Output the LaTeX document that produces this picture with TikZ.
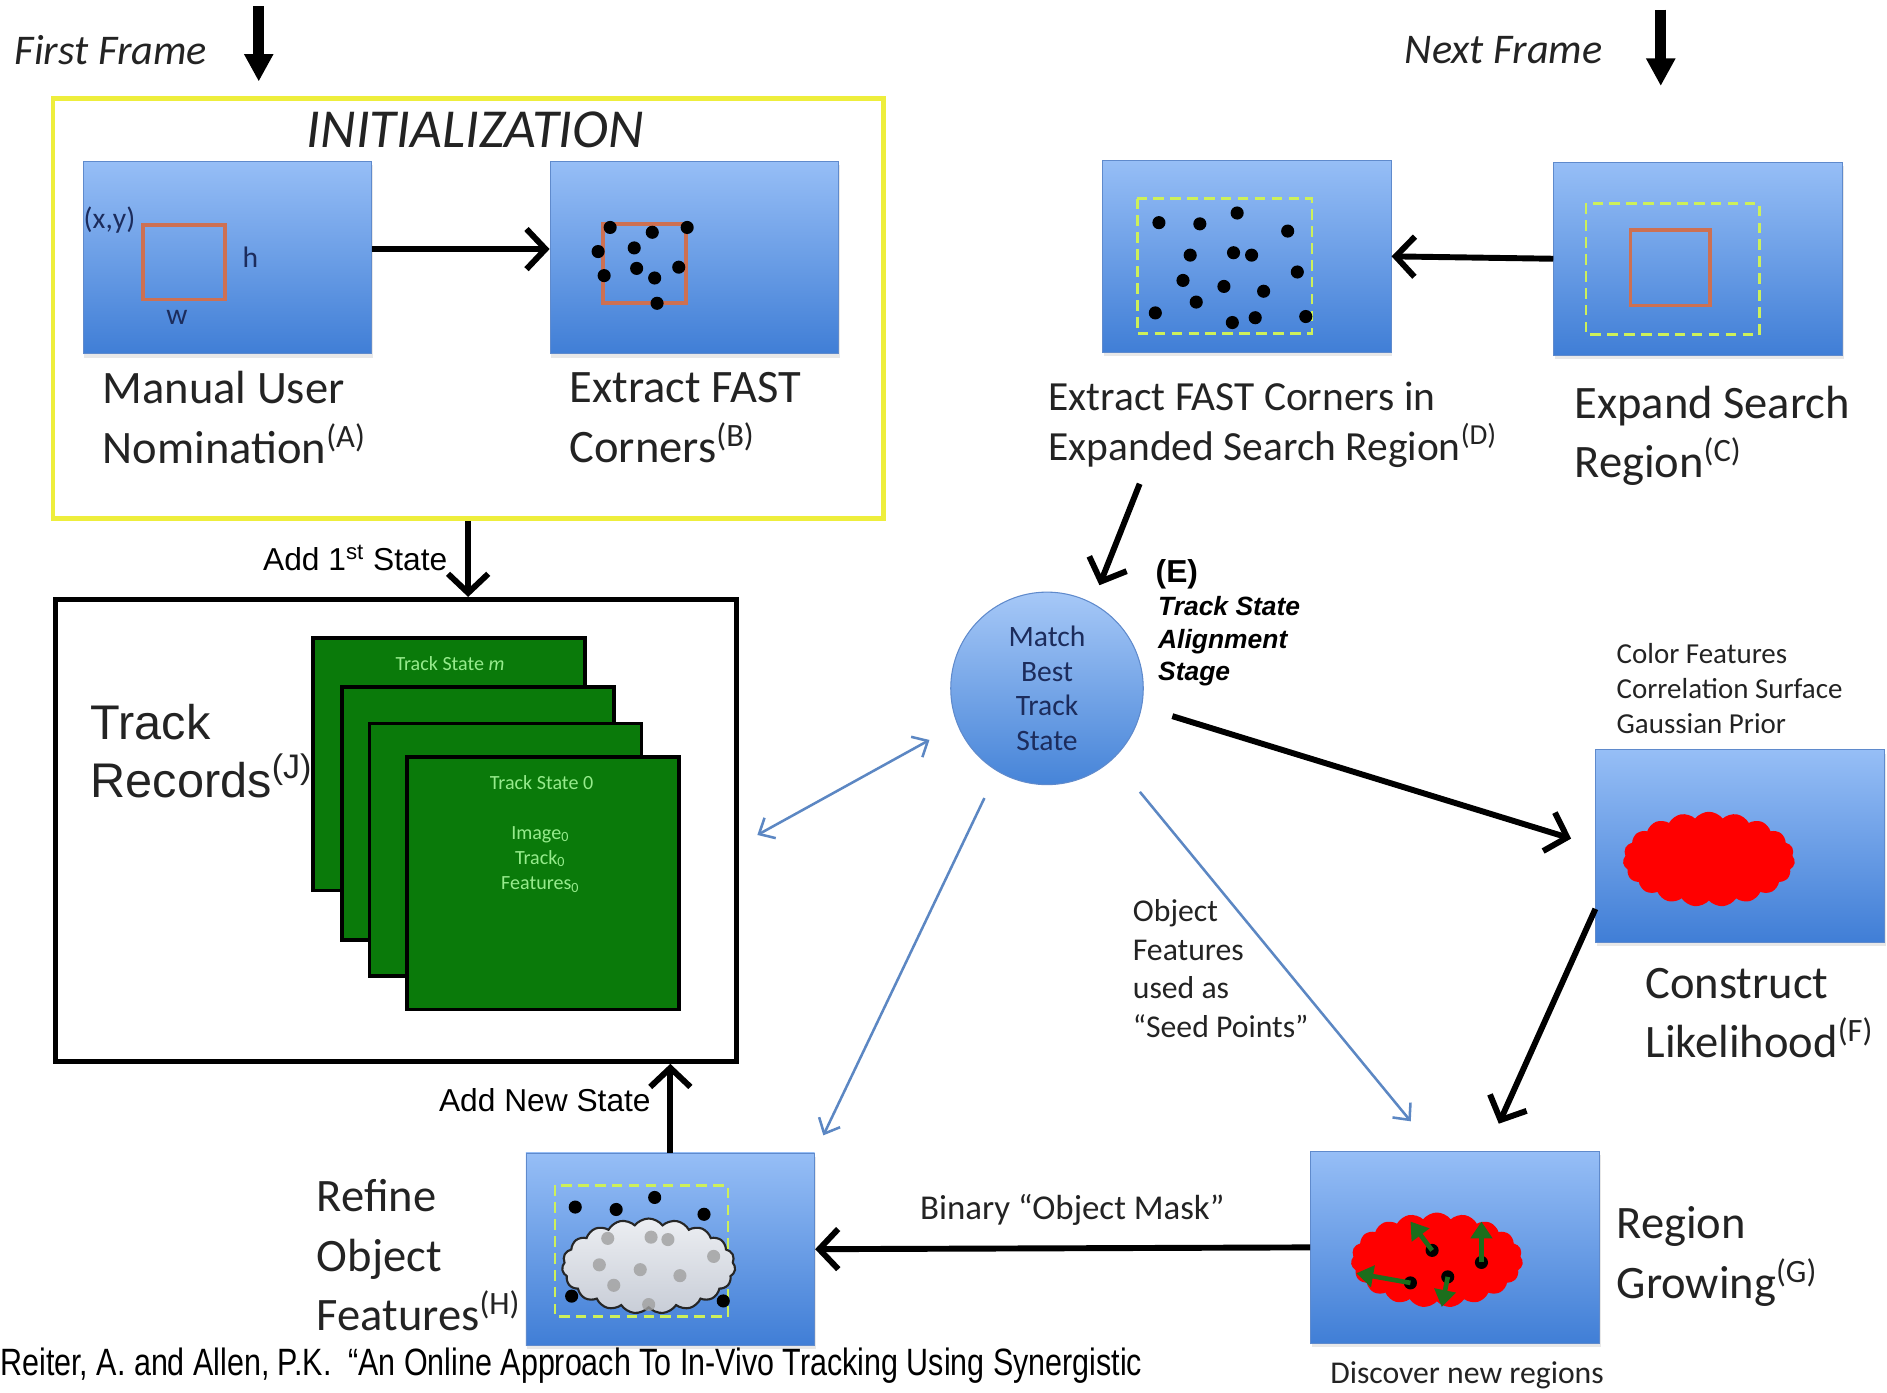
\documentclass[tikz,border=0pt]{standalone}
\usepackage{fontspec}
\setmainfont{Carlito}
\newfontfamily\arialfont{Liberation Sans}
\newfontfamily\narrowfont[FakeStretch=0.8]{Liberation Sans}
\usetikzlibrary{arrows.meta,shapes.symbols,shadows}

\definecolor{panelTop}{RGB}{150,190,246}
\definecolor{panelBottom}{RGB}{64,126,214}
\definecolor{panelEdge}{RGB}{95,138,204}
\definecolor{initYellow}{RGB}{238,238,60}
\definecolor{searchGreen}{RGB}{205,240,90}
\definecolor{roiOrange}{RGB}{205,112,82}
\definecolor{cardGreen}{RGB}{10,122,10}
\definecolor{cardText}{RGB}{150,235,140}
\definecolor{linkBlue}{RGB}{92,135,195}
\definecolor{navy}{RGB}{28,44,92}
\definecolor{growGreen}{RGB}{28,110,28}
\definecolor{textGrey}{RGB}{35,35,35}

\tikzset{
  panel/.style={rectangle, draw=panelEdge, line width=0.4pt, top color=panelTop, bottom color=panelBottom,
    minimum width=4.8cm, minimum height=3.2cm, inner sep=0pt,
    drop shadow={shadow xshift=0.6pt, shadow yshift=-1.8pt, opacity=0.18}},
  card/.style={rectangle, draw=black, line width=1.7pt, fill=cardGreen, minimum width=4.52cm, minimum height=4.2cm, inner sep=0pt},
  cardtxt/.style={text=cardText, font=\fontsize{9.5}{12}\selectfont, align=center, inner sep=0pt},
  biglbl/.style={anchor=west, align=left, inner sep=0pt, text=textGrey, font=\fontsize{22}{28}\selectfont},
  midlbl/.style={anchor=west, align=left, inner sep=0pt, text=textGrey, font=\fontsize{19.6}{24}\selectfont},
  smalllbl/.style={align=left, inner sep=0pt, text=textGrey, font=\fontsize{13.7}{16.5}\selectfont},
  arial/.style={inner sep=0pt, font=\arialfont\fontsize{15}{18}\selectfont},
  bigarrow/.style={line width=2.8pt, -{Straight Barb[length=9pt,width=19pt]}},
  framearrow/.style={line width=5pt, -{Triangle[length=13pt,width=13pt]}},
  linkarrow/.style={linkBlue, line width=1.2pt, -{Straight Barb[length=6pt,width=11pt]}},
  linkboth/.style={linkBlue, line width=1.2pt, {Straight Barb[length=6pt,width=11pt]}-{Straight Barb[length=6pt,width=11pt]}},
  growarrow/.style={growGreen, line width=2.2pt, -{Triangle[length=8pt,width=10pt]}},
  searchbox/.style={searchGreen, line width=1.2pt, dash pattern=on 5pt off 3pt},
  roi/.style={roiOrange, line width=1.7pt},
  blob/.style={cloud, cloud puffs=19, cloud puff arc=105, cloud ignores aspect, fill=red, minimum width=2.86cm, minimum height=1.58cm, inner sep=0pt},
  dimlbl/.style={text=navy, inner sep=0pt, font=\fontsize{14}{16}\selectfont}
}

\begin{document}
\begin{tikzpicture}[x=0.02cm,y=-0.02cm]
\useasboundingbox (0,0) rectangle (1568,1157);

\node[anchor=west, inner sep=0pt, text=textGrey, font=\fontsize{20}{24}\selectfont\itshape] (firstframe) at (12,42) {First Frame};
\node[anchor=west, inner sep=0pt, text=textGrey, font=\fontsize{20}{24}\selectfont\itshape] (nextframe) at (1167,42) {Next Frame};

\node[rectangle, draw=initYellow, line width=2.3pt, minimum width=13.8cm, minimum height=6.98cm] (init) at (389,256.5) {};
\node[inner sep=0pt, text=textGrey, font=\fontsize{26}{30}\selectfont\itshape] (inittitle) at (395,108) {INITIALIZATION};

\coordinate (firsttop) at (215,5);
\coordinate (nexttop) at (1380,8);
\draw[framearrow, shorten >=7pt] (firsttop) -- (firsttop |- init.north);

\node[panel] (boxA) at (189,214) {};
\node[panel] (boxB) at (577,214) {};
\node[panel] (boxD) at (1036,213) {};
\node[panel] (boxC) at (1411,215) {};
\node[panel] (boxF) at (1446,703) {};
\node[panel] (boxG) at (1209,1036.5) {};
\node[panel] (boxH) at (557,1038) {};

\draw[framearrow, shorten >=36pt] (nexttop) -- (nexttop |- boxC.north);

\draw[roi] (119,187) rectangle (187,249);
\node[dimlbl] (xy) at (91,183) {(x,y)};
\node[dimlbl] (hlbl) at (208,214) {h};
\node[dimlbl] (wlbl) at (147,264) {w};

\draw[roi] (501,186) rectangle (570,252);
\fill (507,189) circle (3.1pt) (542,193) circle (3.1pt) (571,189) circle (3.1pt) (497,209) circle (3.1pt)
  (527,206) circle (3.1pt) (564,222) circle (3.1pt) (502,229) circle (3.1pt) (529,223) circle (3.1pt)
  (544,231) circle (3.1pt) (546,252) circle (3.1pt);

\draw[searchbox] (945,165) rectangle (1090,277);
\fill (963,185) circle (3.1pt) (997,186) circle (3.1pt) (1028,177) circle (3.1pt) (1070,192) circle (3.1pt)
  (989,212) circle (3.1pt) (1025,210) circle (3.1pt) (1040,212) circle (3.1pt) (1078,226) circle (3.1pt)
  (983,233) circle (3.1pt) (1017,238) circle (3.1pt) (1050,242) circle (3.1pt) (994,251) circle (3.1pt)
  (960,260) circle (3.1pt) (1024,268) circle (3.1pt) (1043,264) circle (3.1pt) (1085,263) circle (3.1pt);

\draw[searchbox] (1318,169) rectangle (1462,278);
\draw[roi] (1355,191) rectangle (1421,254);

\draw[bigarrow] ([yshift=4pt]boxA.east) -- ([yshift=4pt]boxB.west);
\draw[bigarrow] (boxC.west) -- (boxD.east);

\node[biglbl] (labelA) at (85,347) {Manual User\\Nomination\textsuperscript{(A)}};
\node[biglbl] (labelB) at (473,347) {Extract FAST\\Corners\textsuperscript{(B)}};
\node[midlbl] (labelD) at (871,353) {Extract FAST Corners in\\Expanded Search Region\textsuperscript{(D)}};
\node[biglbl] (labelC) at (1308,362) {Expand Search\\Region\textsuperscript{(C)}};

\node[rectangle, draw=black, line width=2.3pt, minimum width=11.32cm, minimum height=7.68cm] (records) at (329,690) {};
\node[biglbl, font=\arialfont\fontsize{23}{27.5}\selectfont] (labelJ) at (75,624) {Track\\Records\textsuperscript{(J)}};
\node[card] (cardm) at (373,635) {};
\node[card] (card2) at (397,676) {};
\node[card] (card1) at (420,706) {};
\node[card] (card0) at (451,734) {};
\node[cardtxt] (statem) at (374,551) {Track State \textit{m}};
\node[cardtxt] (state0) at (450,650) {Track State 0};
\node[cardtxt] (state0data) at (449,714) {Image\textsubscript{0}\\Track\textsubscript{0}\\Features\textsubscript{0}};

\draw[bigarrow] (init.south) -- (init.south |- records.north);
\node[arial, anchor=east] (addfirst) at (372,464) {Add 1\textsuperscript{st} State};

\node[circle, draw=panelEdge, line width=0.5pt, top color={rgb,255:red,166;green,200;blue,247}, bottom color={rgb,255:red,70;green,132;blue,216},
  minimum size=3.2cm, inner sep=0pt, align=center, text=navy, font=\fontsize{14}{16.5}\selectfont] (match) at (870,572) {Match\\Best\\Track\\State};
\node[anchor=west, inner sep=0pt, font=\arialfont\bfseries\fontsize{15}{18}\selectfont] (stageE) at (960,477) {(E)};
\node[anchor=west, align=left, inner sep=0pt, font=\arialfont\bfseries\itshape\fontsize{12.5}{15.4}\selectfont] (stagelbl) at (962,533) {Track State\\Alignment\\Stage};

\coordinate (dtail) at (947,402);
\draw[bigarrow, shorten >=9pt] (dtail) -- (match.62);

\node[smalllbl, anchor=west] (cues) at (1343,572) {Color Features\\Correlation Surface\\Gaussian Prior};
\node[blob] (likelihood) at (1420,714) {};
\draw[bigarrow, shorten <=15pt, shorten >=12pt] (match.-11) -- (boxF.west);
\node[biglbl] (labelF) at (1367,842) {Construct\\Likelihood\textsuperscript{(F)}};

\node[blob] (grown) at (1194,1047) {};
\fill (1190,1039) circle (3.1pt) (1231,1049) circle (3.1pt) (1203,1061) circle (3.1pt) (1172,1066) circle (3.1pt);
\draw[growarrow] (1172,1066) -- (1127,1058);
\draw[growarrow] (1190,1039) -- (1172,1015);
\draw[growarrow] (1231,1049) -- (1231,1015);
\draw[growarrow] (1203,1061) -- (1198,1086);
\draw[bigarrow, shorten >=14pt] ([yshift=16pt]boxF.south west) -- ([xshift=15pt]boxG.north);
\node[biglbl] (labelG) at (1343,1044) {Region\\Growing\textsuperscript{(G)}};
\node[inner sep=0pt, text=textGrey, font=\fontsize{15}{18}\selectfont] (discover) at (1219,1143) {Discover new regions};

\draw[searchbox] (461,985) rectangle (605,1094);
\fill (478,1003) circle (3.1pt) (512,1005) circle (3.1pt) (544,995) circle (3.1pt) (585,1009) circle (3.1pt)
  (475,1077) circle (3.1pt) (601,1081) circle (3.1pt);
\node[cloud, cloud puffs=19, cloud puff arc=105, cloud ignores aspect, draw=black!85, line width=1pt,
  top color={rgb,255:red,236;green,238;blue,242}, bottom color={rgb,255:red,200;green,205;blue,215},
  minimum width=2.88cm, minimum height=1.58cm, inner sep=0pt] (mask) at (539,1052) {};
\fill[gray!75, opacity=0.8] (505,1029) circle (3.1pt) (541,1028) circle (3.1pt) (555,1030) circle (3.1pt)
  (498,1051) circle (3.1pt) (532,1055) circle (3.1pt) (565,1060) circle (3.1pt) (593,1044) circle (3.1pt)
  (510,1068) circle (3.1pt) (539,1084) circle (3.1pt);
\node[biglbl] (labelH) at (263,1043) {Refine\\Object\\Features\textsuperscript{(H)}};

\draw[bigarrow] (boxG.west) -- (boxH.east);
\node[inner sep=0pt, text=textGrey, font=\fontsize{16.5}{20}\selectfont] (masklbl) at (891,1005) {Binary “Object Mask”};
\draw[bigarrow] (boxH.north) -- (boxH.north |- records.south);
\node[arial, anchor=east] (addnew) at (541,914) {Add New State};

\draw[linkboth, shorten <=15pt, shorten >=10pt] (match.202) -- ([yshift=-7pt]records.east);
\draw[linkarrow, shorten <=14pt, shorten >=9pt] (match.239) -- (boxH.north east);
\draw[linkarrow, shorten <=20pt, shorten >=18pt] (match.-47) -- ([xshift=59pt]boxG.north west);
\node[anchor=west, align=left, inner sep=0pt, text=textGrey, font=\fontsize{15}{18.2}\selectfont] (seedlbl) at (941,805) {Object\\Features\\used as\\“Seed Points”};

\node[anchor=west, inner sep=0pt, font=\narrowfont\fontsize{18}{22}\selectfont] (citation) at (0,1135) {Reiter, A. and Allen, P.K.\ \ “An Online Approach To In-Vivo Tracking Using Synergistic};
\end{tikzpicture}
\end{document}
